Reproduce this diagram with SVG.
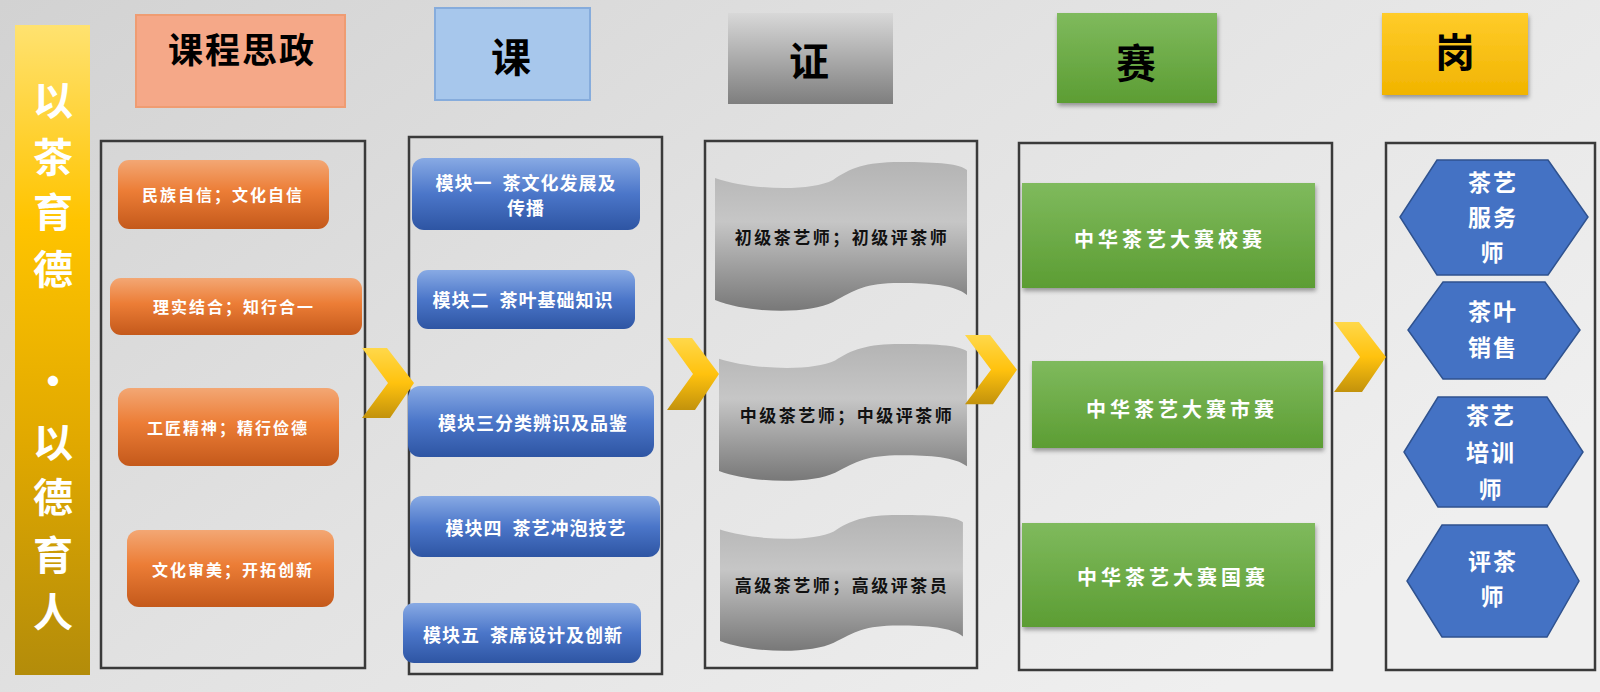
<svg xmlns="http://www.w3.org/2000/svg" width="1600" height="692" viewBox="0 0 1600 692">
<defs>
<linearGradient id="bg" x1="0" y1="0" x2="1" y2="0.6">
<stop offset="0" stop-color="#d2d2d2"/><stop offset="0.5" stop-color="#e2e2e2"/><stop offset="1" stop-color="#efefef"/>
</linearGradient>
<linearGradient id="gBar" x1="0" y1="0" x2="0" y2="1">
<stop offset="0" stop-color="#ffe270"/><stop offset="0.3" stop-color="#ffc400"/><stop offset="0.65" stop-color="#e0a800"/><stop offset="1" stop-color="#b38c0a"/>
</linearGradient>
<linearGradient id="gOrange" x1="0" y1="0" x2="0" y2="1">
<stop offset="0" stop-color="#f3a774"/><stop offset="0.45" stop-color="#ec7d36"/><stop offset="1" stop-color="#c4591b"/>
</linearGradient>
<linearGradient id="gBlue" x1="0" y1="0" x2="0" y2="1">
<stop offset="0" stop-color="#88aae4"/><stop offset="0.5" stop-color="#4b76c9"/><stop offset="1" stop-color="#2e55a3"/>
</linearGradient>
<linearGradient id="gGray" x1="0" y1="0" x2="0" y2="1">
<stop offset="0" stop-color="#d8d8d8"/><stop offset="1" stop-color="#7e7e7e"/>
</linearGradient>
<linearGradient id="gDoc" x1="0" y1="0" x2="0" y2="1">
<stop offset="0" stop-color="#b4b4b4"/><stop offset="0.4" stop-color="#c6c6c6"/><stop offset="1" stop-color="#787878"/>
</linearGradient>
<linearGradient id="gGreen" x1="0" y1="0" x2="0" y2="1">
<stop offset="0" stop-color="#7fba5d"/><stop offset="1" stop-color="#5c9d33"/>
</linearGradient>
<linearGradient id="gGold" x1="0" y1="0" x2="0" y2="1">
<stop offset="0" stop-color="#ffcc2a"/><stop offset="1" stop-color="#f1b400"/>
</linearGradient>
<linearGradient id="gChev" x1="0" y1="0" x2="0" y2="1">
<stop offset="0" stop-color="#ffd84a"/><stop offset="0.5" stop-color="#ffc20e"/><stop offset="1" stop-color="#c2920c"/>
</linearGradient>
<filter id="sh" x="-10%" y="-10%" width="125%" height="130%">
<feDropShadow dx="1" dy="3" stdDeviation="2" flood-color="#000" flood-opacity="0.35"/>
</filter>
<path id="doc" d="M0,16 C35,28 95,30 118,18 C135,6 150,0 185,0 C225,0 245,2 252,8 L252,133 C240,123 215,121 185,121 C150,121 140,128 118,140 C95,152 35,152 0,138 Z"/>
<polygon id="chev" points="0,0 25,0 52,35 28,70 0,70 26,35"/>
</defs>
<style>
text{font-family:"Noto Sans CJK SC","Noto Sans",sans-serif;font-weight:bold;text-anchor:middle}
.panel{fill:none;stroke:#3a3a3a;stroke-width:2.5}
.hdr{fill:#000;font-size:40px}
.wt{fill:#fff;font-size:16px;letter-spacing:2px}
.bt{fill:#fff;font-size:18px;letter-spacing:1px;white-space:pre}
.dt{fill:#111;font-size:17px;letter-spacing:2.5px}
.gt{fill:#fff;font-size:20px;letter-spacing:4px}
.ht{fill:#fff;font-size:23px;letter-spacing:2px}
.bar{fill:#fff;font-size:40px}
.orange{fill:url(#gOrange)}
.blue{fill:url(#gBlue)}
.green{fill:url(#gGreen)}
.hex{fill:#4472c4;stroke:#2f528f;stroke-width:1.5}
.chev{fill:url(#gChev)}
</style>
<rect width="1600" height="692" fill="url(#bg)"/>

<g id="banner">
<rect x="15" y="25" width="75" height="650" fill="url(#gBar)"/>
<text class="bar" x="53" y="115">以</text>
<text class="bar" x="53" y="172">茶</text>
<text class="bar" x="53" y="227">育</text>
<text class="bar" x="53" y="284">德</text>
<text class="bar" x="53" y="396" font-size="42">·</text>
<text class="bar" x="53" y="457">以</text>
<text class="bar" x="53" y="512">德</text>
<text class="bar" x="53" y="570">育</text>
<text class="bar" x="53" y="627">人</text>
</g>

<g id="col-szheng">
<rect x="136" y="15" width="209" height="92" fill="#f5a888" stroke="#ef9c72" stroke-width="2"/>
<text x="242" y="63" style="font-size:35px;letter-spacing:2px;fill:#000">课程思政</text>
<rect class="panel" x="101" y="141" width="264" height="527"/>
<g id="sz1"><rect class="orange" x="118" y="160" width="211" height="69" rx="11"/><text class="wt" x="223" y="201">民族自信；文化自信</text></g>
<g id="sz2"><rect class="orange" x="110" y="278" width="252" height="57" rx="11"/><text class="wt" x="234" y="313">理实结合；知行合一</text></g>
<g id="sz3"><rect class="orange" x="118" y="388" width="221" height="78" rx="12"/><text class="wt" x="228" y="434">工匠精神；精行俭德</text></g>
<g id="sz4"><rect class="orange" x="127" y="530" width="207" height="77" rx="12"/><text class="wt" x="233" y="576">文化审美；开拓创新</text></g>
</g>

<g id="col-ke">
<rect x="435" y="8" width="155" height="92" fill="#a7c7ec" stroke="#86acdc" stroke-width="2"/>
<text class="hdr" x="511" y="72" font-size="42">课</text>
<rect class="panel" x="409" y="137" width="253" height="537"/>
<g id="ke1"><rect class="blue" x="412" y="158" width="228" height="72" rx="12"/><text class="bt" x="526" y="190" xml:space="preserve">模块一  茶文化发展及</text><text class="bt" x="526" y="215">传播</text></g>
<g id="ke2"><rect class="blue" x="417" y="270" width="218" height="59" rx="11"/><text class="bt" x="523" y="307" xml:space="preserve">模块二  茶叶基础知识</text></g>
<g id="ke3"><rect class="blue" x="408" y="386" width="246" height="71" rx="12"/><text class="bt" x="533" y="430">模块三分类辨识及品鉴</text></g>
<g id="ke4"><rect class="blue" x="410" y="496" width="250" height="61" rx="12"/><text class="bt" x="536" y="535" xml:space="preserve">模块四  茶艺冲泡技艺</text></g>
<g id="ke5"><rect class="blue" x="403" y="603" width="238" height="60" rx="11"/><text class="bt" x="523" y="642" xml:space="preserve">模块五  茶席设计及创新</text></g>
</g>

<g id="col-zheng">
<rect x="728" y="13" width="165" height="91" fill="url(#gGray)"/>
<text class="hdr" x="809" y="76" font-size="42">证</text>
<rect class="panel" x="705" y="141" width="272" height="527"/>
<g id="zh1"><use href="#doc" fill="url(#gDoc)" transform="translate(715,162)"/><text class="dt" x="842" y="244">初级茶艺师；初级评茶师</text></g>
<g id="zh2"><use href="#doc" fill="url(#gDoc)" transform="translate(719,344) scale(0.984,0.92)"/><text class="dt" x="847" y="422">中级茶艺师；中级评茶师</text></g>
<g id="zh3"><use href="#doc" fill="url(#gDoc)" transform="translate(720,515) scale(0.964,0.913)"/><text class="dt" x="842" y="592">高级茶艺师；高级评茶员</text></g>
</g>

<g id="col-sai">
<rect x="1057" y="13" width="160" height="90" fill="url(#gGreen)" filter="url(#sh)"/>
<text class="hdr" x="1136" y="78" font-size="42">赛</text>
<rect class="panel" x="1019" y="143" width="313" height="527"/>
<g id="sai1"><rect class="green" x="1022" y="183" width="293" height="105" filter="url(#sh)"/><text class="gt" x="1170" y="247">中华茶艺大赛校赛</text></g>
<g id="sai2"><rect class="green" x="1032" y="361" width="291" height="87" filter="url(#sh)"/><text class="gt" x="1182" y="417">中华茶艺大赛市赛</text></g>
<g id="sai3"><rect class="green" x="1022" y="523" width="293" height="104" filter="url(#sh)"/><text class="gt" x="1173" y="585">中华茶艺大赛国赛</text></g>
</g>

<g id="col-gang">
<rect x="1382" y="13" width="146" height="82" fill="url(#gGold)" filter="url(#sh)"/>
<text class="hdr" x="1455" y="67">岗</text>
<rect class="panel" x="1386" y="143" width="209" height="527"/>
<g id="g1"><polygon class="hex" points="1437,160 1548,160 1588,217 1548,275 1437,275 1400,217"/><text class="ht" x="1493" y="191">茶艺</text><text class="ht" x="1493" y="226">服务</text><text class="ht" x="1493" y="261">师</text></g>
<g id="g2"><polygon class="hex" points="1443,282 1545,282 1580,330 1545,379 1443,379 1408,330"/><text class="ht" x="1493" y="320">茶叶</text><text class="ht" x="1493" y="356">销售</text></g>
<g id="g3"><polygon class="hex" points="1438,397 1547,397 1583,452 1547,507 1438,507 1404,452"/><text class="ht" x="1491" y="424">茶艺</text><text class="ht" x="1491" y="461">培训</text><text class="ht" x="1491" y="498">师</text></g>
<g id="g4"><polygon class="hex" points="1442,525 1547,525 1579,581 1547,637 1442,637 1407,581"/><text class="ht" x="1493" y="570">评茶</text><text class="ht" x="1493" y="605">师</text></g>
</g>

<g id="connectors">
<use href="#chev" class="chev" transform="translate(362,348)"/>
<use href="#chev" class="chev" transform="translate(667,338) scale(1,1.03)"/>
<use href="#chev" class="chev" transform="translate(965,335) scale(1,0.99)"/>
<use href="#chev" class="chev" transform="translate(1334,322)"/>
</g>
</svg>
